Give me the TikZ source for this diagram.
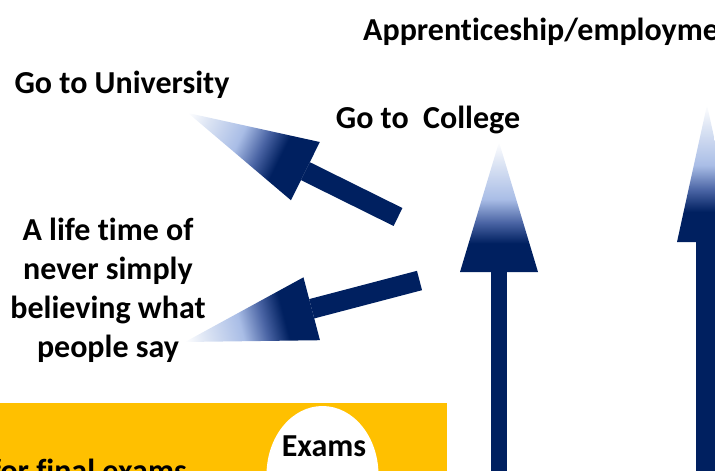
\documentclass[tikz,border=0pt]{standalone}
\usepackage{fontspec}
\setmainfont{Carlito}[Ligatures=NoCommon]
\usetikzlibrary{calc}

\definecolor{navy}{HTML}{002060}
\definecolor{midblue}{HTML}{4A64A4}
\definecolor{lightblue}{HTML}{A9BDE6}
\definecolor{paleblue}{HTML}{DDE5F4}
\definecolor{examYellow}{HTML}{FFC000}

% navy base -> white tip
\pgfdeclarehorizontalshading{headshade}{100bp}{color(0bp)=(navy); color(36bp)=(navy); color(44bp)=(midblue); color(53bp)=(lightblue); color(67bp)=(paleblue); color(75bp)=(white); color(100bp)=(white)}

% #1 tail, #2 tip, #3 half shaft width, #4 head length, #5 half head width, #6 shaft end (from tip)
\newcommand{\gradArrow}[6]{%
  \pgfmathanglebetweenpoints{\pgfpointanchor{#1}{center}}{\pgfpointanchor{#2}{center}}%
  \let\arrAngle\pgfmathresult
  \begin{scope}[transform canvas={shift={(#2)}, rotate=\arrAngle}]
    \shade[shading=headshade] (-#4, -#5) -- (0, 0) -- (-#4, #5) -- cycle;
  \end{scope}
  \coordinate (se) at ($(#2)!#6pt!(#1)$);
  \fill[navy] ($(#1)!#3pt!90:(#2)$) -- ($(se)!#3pt!90:(#2)$)
    -- ($(se)!#3pt!-90:(#2)$) -- ($(#1)!#3pt!-90:(#2)$) -- cycle;}

\begin{document}
\begin{tikzpicture}[x=1pt, y=-1pt,
    lbl/.style={font=\fontsize{32}{39}\selectfont\bfseries, inner sep=0pt, align=center}]
   \useasboundingbox (0,0) rectangle (715,471);
   \clip (0,0) rectangle (715,471);

   % exam band
   \fill[examYellow] (-5,403) rectangle (447,480);
   \fill[white] (322.5,475) ellipse [x radius=56, y radius=69];
   \node[lbl, anchor=base] (exams) at (324,456) {Exams};
   \node[lbl, anchor=base east] (final) at (187,481) {for final exams};

   % destinations
   \node[lbl, anchor=base west] (appr) at (363,40) {Apprenticeship/employment};
   \node[lbl, anchor=base] (uni) at (122,93) {Go to University};
   \node[lbl, anchor=base] (college) at (428,128) {Go to~~College};
   \node[lbl] (life) at (108,290) {A life time of\\never simply\\believing what\\people say};

   % arrows
   \coordinate (uniTail) at (398,217);
   \coordinate (uniTip) at (188,113);
   \coordinate (lifeTail) at (419.5,280.5);
   \coordinate (lifeTip) at (185,342);
   \coordinate (collTail) at (499,480);
   \coordinate (collTip) at (499,142);
   \coordinate (apprTail) at (707,480);
   \coordinate (apprTip) at (707,105);

   \gradArrow{uniTail}{uniTip}{10}{131}{32.5}{131}
   \gradArrow{lifeTail}{lifeTip}{10}{131}{32.5}{131}
   \gradArrow{collTail}{collTip}{8}{130}{39}{108}
   \gradArrow{apprTail}{apprTip}{11}{137}{30}{107}
\end{tikzpicture}
\end{document}
